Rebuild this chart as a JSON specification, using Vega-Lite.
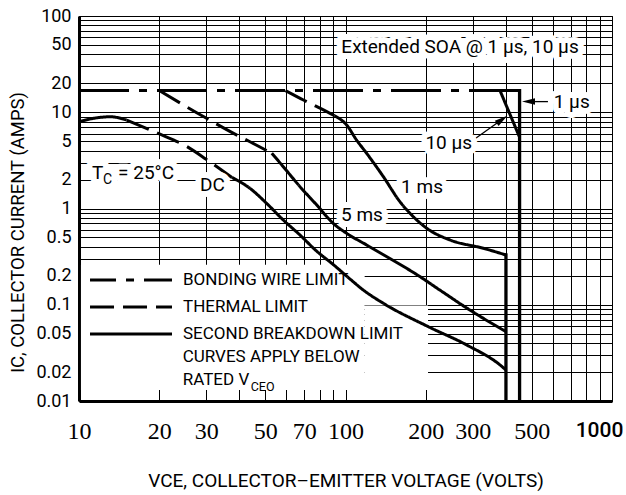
{
  "$schema": "https://vega.github.io/schema/vega-lite/v6.json",
  "width": 533,
  "height": 385,
  "autosize": {"type": "none"},
  "padding": {"left": 79, "top": 16, "right": 14, "bottom": 94},
  "background": "white",
  "config": {"view": {"stroke": "#000", "strokeWidth": 1}},
  "datasets": {
    "curves": [
      {"seg": "bw", "limit": "BONDING WIRE LIMIT", "V": 10, "I": 16.8},
      {"seg": "bw", "limit": "BONDING WIRE LIMIT", "V": 450, "I": 16.8},
      {"seg": "dc-h", "limit": "SECOND BREAKDOWN LIMIT", "V": 10, "I": 7.98},
      {"seg": "dc-h", "limit": "SECOND BREAKDOWN LIMIT", "V": 11.5, "I": 8.7},
      {"seg": "dc-h", "limit": "SECOND BREAKDOWN LIMIT", "V": 13.1, "I": 8.98},
      {"seg": "dc-h", "limit": "SECOND BREAKDOWN LIMIT", "V": 15.1, "I": 8.3},
      {"seg": "dc-t", "limit": "THERMAL LIMIT", "V": 15.1, "I": 8.3},
      {"seg": "dc-t", "limit": "THERMAL LIMIT", "V": 19.6, "I": 6.1},
      {"seg": "dc-t", "limit": "THERMAL LIMIT", "V": 25.4, "I": 4.4},
      {"seg": "dc-t", "limit": "THERMAL LIMIT", "V": 30, "I": 3.25},
      {"seg": "dc-t", "limit": "THERMAL LIMIT", "V": 37.5, "I": 2.1},
      {"seg": "dc-s", "limit": "SECOND BREAKDOWN LIMIT", "V": 37.5, "I": 2.1},
      {"seg": "dc-s", "limit": "SECOND BREAKDOWN LIMIT", "V": 43.8, "I": 1.62},
      {"seg": "dc-s", "limit": "SECOND BREAKDOWN LIMIT", "V": 50.6, "I": 1.13},
      {"seg": "dc-s", "limit": "SECOND BREAKDOWN LIMIT", "V": 58.4, "I": 0.76},
      {"seg": "dc-s", "limit": "SECOND BREAKDOWN LIMIT", "V": 67.5, "I": 0.53},
      {"seg": "dc-s", "limit": "SECOND BREAKDOWN LIMIT", "V": 78, "I": 0.36},
      {"seg": "dc-s", "limit": "SECOND BREAKDOWN LIMIT", "V": 89.9, "I": 0.262},
      {"seg": "dc-s", "limit": "SECOND BREAKDOWN LIMIT", "V": 104, "I": 0.185},
      {"seg": "dc-s", "limit": "SECOND BREAKDOWN LIMIT", "V": 116.7, "I": 0.142},
      {"seg": "dc-s", "limit": "SECOND BREAKDOWN LIMIT", "V": 138.7, "I": 0.1035},
      {"seg": "dc-s", "limit": "SECOND BREAKDOWN LIMIT", "V": 204.7, "I": 0.0591},
      {"seg": "dc-s", "limit": "SECOND BREAKDOWN LIMIT", "V": 285, "I": 0.0382},
      {"seg": "dc-s", "limit": "SECOND BREAKDOWN LIMIT", "V": 380, "I": 0.0237},
      {"seg": "dc-s", "limit": "SECOND BREAKDOWN LIMIT", "V": 400, "I": 0.021},
      {"seg": "5ms-t", "limit": "THERMAL LIMIT", "V": 20, "I": 16.8},
      {"seg": "5ms-t", "limit": "THERMAL LIMIT", "V": 30.1, "I": 8.65},
      {"seg": "5ms-t", "limit": "THERMAL LIMIT", "V": 40.2, "I": 5.57},
      {"seg": "5ms-t", "limit": "THERMAL LIMIT", "V": 43.8, "I": 4.94},
      {"seg": "5ms-t", "limit": "THERMAL LIMIT", "V": 52.9, "I": 3.75},
      {"seg": "5ms-s", "limit": "SECOND BREAKDOWN LIMIT", "V": 52.9, "I": 3.75},
      {"seg": "5ms-s", "limit": "SECOND BREAKDOWN LIMIT", "V": 58.4, "I": 2.72},
      {"seg": "5ms-s", "limit": "SECOND BREAKDOWN LIMIT", "V": 67.5, "I": 1.685},
      {"seg": "5ms-s", "limit": "SECOND BREAKDOWN LIMIT", "V": 78, "I": 1.087},
      {"seg": "5ms-s", "limit": "SECOND BREAKDOWN LIMIT", "V": 89.9, "I": 0.701},
      {"seg": "5ms-s", "limit": "SECOND BREAKDOWN LIMIT", "V": 101, "I": 0.552},
      {"seg": "5ms-s", "limit": "SECOND BREAKDOWN LIMIT", "V": 120, "I": 0.418},
      {"seg": "5ms-s", "limit": "SECOND BREAKDOWN LIMIT", "V": 146.9, "I": 0.302},
      {"seg": "5ms-s", "limit": "SECOND BREAKDOWN LIMIT", "V": 185, "I": 0.206},
      {"seg": "5ms-s", "limit": "SECOND BREAKDOWN LIMIT", "V": 226, "I": 0.142},
      {"seg": "5ms-s", "limit": "SECOND BREAKDOWN LIMIT", "V": 285, "I": 0.0925},
      {"seg": "5ms-s", "limit": "SECOND BREAKDOWN LIMIT", "V": 400, "I": 0.0525},
      {"seg": "1ms-t", "limit": "THERMAL LIMIT", "V": 59.5, "I": 16.8},
      {"seg": "1ms-t", "limit": "THERMAL LIMIT", "V": 69.5, "I": 13.4},
      {"seg": "1ms-t", "limit": "THERMAL LIMIT", "V": 87.5, "I": 9.75},
      {"seg": "1ms-t", "limit": "THERMAL LIMIT", "V": 91, "I": 9.2},
      {"seg": "1ms-s", "limit": "SECOND BREAKDOWN LIMIT", "V": 91, "I": 9.2},
      {"seg": "1ms-s", "limit": "SECOND BREAKDOWN LIMIT", "V": 101, "I": 7.37},
      {"seg": "1ms-s", "limit": "SECOND BREAKDOWN LIMIT", "V": 110, "I": 5.15},
      {"seg": "1ms-s", "limit": "SECOND BREAKDOWN LIMIT", "V": 120, "I": 3.75},
      {"seg": "1ms-s", "limit": "SECOND BREAKDOWN LIMIT", "V": 138.7, "I": 2.14},
      {"seg": "1ms-s", "limit": "SECOND BREAKDOWN LIMIT", "V": 160, "I": 1.177},
      {"seg": "1ms-s", "limit": "SECOND BREAKDOWN LIMIT", "V": 179.7, "I": 0.822},
      {"seg": "1ms-s", "limit": "SECOND BREAKDOWN LIMIT", "V": 204, "I": 0.61},
      {"seg": "1ms-s", "limit": "SECOND BREAKDOWN LIMIT", "V": 246.6, "I": 0.471},
      {"seg": "1ms-s", "limit": "SECOND BREAKDOWN LIMIT", "V": 329, "I": 0.386},
      {"seg": "1ms-s", "limit": "SECOND BREAKDOWN LIMIT", "V": 400, "I": 0.329},
      {"seg": "10us", "limit": "SECOND BREAKDOWN LIMIT", "V": 380, "I": 16.8},
      {"seg": "10us", "limit": "SECOND BREAKDOWN LIMIT", "V": 450, "I": 5.5}
    ],
    "vlimits": [
      {"name": "rated VCEO", "V": 400, "I": 0.329, "I2": 0.01},
      {"name": "1 µs", "V": 450, "I": 16.8, "I2": 0.01}
    ],
    "blank": [
      {"V": 10.17, "V2": 118, "I": 0.013, "I2": 0.26},
      {"V": 118, "V2": 204, "I": 0.013, "I2": 0.098}
    ],
    "arrows": [
      {"label": "1 µs", "V": 486, "I": 12.9, "V2": 575, "I2": 12.9},
      {"label": "10 µs", "V": 386.6, "I": 8.41, "V2": 301.6, "I2": 5.15}
    ],
    "notes": [
      {"text": "Extended SOA @ 1 µs, 10 µs", "V": 269, "I": 48},
      {"text": "1 µs", "V": 706, "I": 12.9},
      {"text": "10 µs", "V": 244, "I": 4.75},
      {"text": "1 ms", "V": 193.7, "I": 1.685},
      {"text": "5 ms", "V": 115.3, "I": 0.856},
      {"text": "DC", "V": 31.7, "I": 1.77}
    ],
    "tc": [
      {"text": "TC = 25°C", "V": 11.2, "I": 2.34}
    ],
    "legendNotes": [
      {"text": "CURVES APPLY BELOW", "V": 24.5, "I": 0.0286},
      {"text": "RATED V", "V": 24.5, "I": 0.0165}
    ]
  },
  "encoding": {
    "x": {
      "field": "V",
      "type": "quantitative",
      "scale": {"type": "log", "domain": [10, 1000], "nice": false},
      "axis": {
        "title": "VCE, COLLECTOR–EMITTER VOLTAGE (VOLTS)",
        "values": [10, 20, 30, 40, 50, 60, 70, 80, 90, 100, 200, 300, 400, 500, 600, 700, 800, 900, 1000],
        "labelExpr": "indexof([10, 20, 30, 50, 70, 100, 200, 300, 500, 1000], datum.value) >= 0 ? toString(datum.value) : ''",
        "grid": true,
        "gridColor": "#000",
        "gridWidth": 1,
        "gridOpacity": 1,
        "ticks": false,
        "domainColor": "#000",
        "domainWidth": 3,
        "labelFont": {"condition": {"test": "datum.value === 1000", "value": "Roboto"}, "value": "Liberation Serif"},
        "labelFontSize": {"condition": {"test": "datum.value === 1000", "value": 21}, "value": 24},
        "labelFontWeight": {"condition": {"test": "datum.value === 1000", "value": 500}, "value": "normal"},
        "labelOffset": {"condition": {"test": "datum.value === 1000", "value": -13}, "value": 0},
        "labelColor": "#000",
        "labelPadding": 18,
        "labelOverlap": false,
        "labelBound": false,
        "labelFlush": false,
        "titleFont": "Roboto",
        "titleFontSize": 19,
        "titleFontWeight": "normal",
        "titleColor": "#000",
        "titleY": 79,
        "titleBaseline": "middle"
      }
    },
    "y": {
      "field": "I",
      "type": "quantitative",
      "scale": {"type": "log", "domain": [0.01, 100], "nice": false},
      "axis": {
        "title": "IC, COLLECTOR CURRENT (AMPS)",
        "values": [0.01, 0.02, 0.03, 0.04, 0.05, 0.06, 0.07, 0.08, 0.09, 0.1, 0.2, 0.3, 0.4, 0.5, 0.6, 0.7, 0.8, 0.9, 1, 2, 3, 4, 5, 6, 7, 8, 9, 10, 20, 30, 40, 50, 60, 70, 80, 90, 100],
        "labelExpr": "indexof([0.01, 0.02, 0.05, 0.1, 0.2, 0.5, 1, 2, 5, 10, 20, 50, 100], datum.value) >= 0 ? toString(datum.value) : ''",
        "grid": true,
        "gridColor": "#000",
        "gridWidth": 1,
        "gridOpacity": 1,
        "ticks": false,
        "domainColor": "#000",
        "domainWidth": 3,
        "labelFont": "Roboto",
        "labelFontSize": 18,
        "labelColor": "#000",
        "labelPadding": 8,
        "labelOverlap": false,
        "labelBound": false,
        "labelFlush": false,
        "titleFont": "Roboto",
        "titleFontSize": 18.5,
        "titleFontWeight": "normal",
        "titleColor": "#000",
        "titleX": -62,
        "titleY": 216,
        "titleBaseline": "middle"
      }
    }
  },
  "layer": [
    {
      "data": {"name": "blank"},
      "mark": {"type": "rect", "color": "white", "opacity": 1},
      "encoding": {"x2": {"field": "V2"}, "y2": {"field": "I2"}}
    },
    {
      "data": {"name": "curves"},
      "mark": {"type": "line", "interpolate": "monotone", "color": "#000", "strokeWidth": 3, "strokeCap": "butt"},
      "encoding": {
        "detail": {"field": "seg"},
        "strokeDash": {
          "field": "limit",
          "type": "nominal",
          "scale": {
            "domain": ["BONDING WIRE LIMIT", "THERMAL LIMIT", "SECOND BREAKDOWN LIMIT"],
            "range": [[50, 10, 8, 10], [24, 9], [1, 0]]
          },
          "legend": {
            "title": null,
            "orient": "none",
            "legendX": 40,
            "legendY": 252,
            "padding": 0,
            "symbolType": "M-4,0L4,0",
            "symbolSize": 420,
            "symbolStrokeWidth": 3,
            "symbolStrokeColor": "#000",
            "symbolFillColor": "transparent",
            "labelFont": "Roboto",
            "labelFontSize": 17,
            "labelColor": "#000",
            "labelOffset": 40,
            "labelLimit": 400,
            "rowPadding": 7,
            "encode": {
              "symbols": {"update": {"strokeDashOffset": {"signal": "datum.value === 'BONDING WIRE LIMIT' ? 24 : 0"}}}
            }
          }
        }
      }
    },
    {
      "data": {"name": "vlimits"},
      "mark": {"type": "rule", "color": "#000", "strokeWidth": 3.3, "strokeCap": "square"},
      "encoding": {"y2": {"field": "I2"}}
    },
    {
      "data": {"name": "arrows"},
      "mark": {"type": "rule", "color": "#000", "strokeWidth": 1.3},
      "encoding": {"x2": {"field": "V2"}, "y2": {"field": "I2"}}
    },
    {
      "data": {"name": "arrows"},
      "transform": [{"filter": "datum.label === '1 µs'"}],
      "mark": {"type": "point", "shape": "M-1,0L1,-0.5L1,0.5Z", "size": 169, "filled": true, "color": "#000", "opacity": 1, "angle": 0}
    },
    {
      "data": {"name": "arrows"},
      "transform": [{"filter": "datum.label === '10 µs'"}],
      "mark": {"type": "point", "shape": "M-1,0L1,-0.5L1,0.5Z", "size": 169, "filled": true, "color": "#000", "opacity": 1, "angle": 144.4}
    },
    {
      "data": {"name": "notes"},
      "mark": {"type": "text", "font": "Roboto", "fontSize": 19, "align": "center", "baseline": "middle", "color": "white", "stroke": "white", "strokeWidth": 12, "strokeJoin": "round"},
      "encoding": {"text": {"field": "text"}}
    },
    {
      "data": {"name": "notes"},
      "mark": {"type": "text", "font": "Roboto", "fontSize": 19, "align": "center", "baseline": "middle", "color": "#000"},
      "encoding": {"text": {"field": "text"}}
    },
    {
      "data": {"name": "tc"},
      "mark": {"type": "text", "text": "T", "font": "Roboto", "fontSize": 19, "align": "left", "baseline": "middle", "color": "white", "stroke": "white", "strokeWidth": 12, "strokeJoin": "round"}
    },
    {
      "data": {"name": "tc"},
      "mark": {"type": "text", "text": "C", "font": "Roboto", "fontSize": 14, "align": "left", "baseline": "middle", "color": "white", "stroke": "white", "strokeWidth": 12, "strokeJoin": "round", "dx": 11, "dy": 7}
    },
    {
      "data": {"name": "tc"},
      "mark": {"type": "text", "text": "= 25°C", "font": "Roboto", "fontSize": 19, "align": "left", "baseline": "middle", "color": "white", "stroke": "white", "strokeWidth": 12, "strokeJoin": "round", "dx": 26}
    },
    {
      "data": {"name": "tc"},
      "mark": {"type": "text", "text": "T", "font": "Roboto", "fontSize": 19, "align": "left", "baseline": "middle", "color": "#000"}
    },
    {
      "data": {"name": "tc"},
      "mark": {"type": "text", "text": "C", "font": "Roboto", "fontSize": 14, "align": "left", "baseline": "middle", "color": "#000", "dx": 11, "dy": 7}
    },
    {
      "data": {"name": "tc"},
      "mark": {"type": "text", "text": "= 25°C", "font": "Roboto", "fontSize": 19, "align": "left", "baseline": "middle", "color": "#000", "dx": 26}
    },
    {
      "data": {"name": "legendNotes"},
      "mark": {"type": "text", "font": "Roboto", "fontSize": 17, "align": "left", "baseline": "middle", "color": "#000"},
      "encoding": {"text": {"field": "text"}}
    },
    {
      "data": {"name": "legendNotes"},
      "transform": [{"filter": "datum.text === 'RATED V'"}],
      "mark": {"type": "text", "text": "CEO", "font": "Roboto", "fontSize": 12.5, "align": "left", "baseline": "middle", "color": "#000", "dx": 68, "dy": 7}
    }
  ]
}
